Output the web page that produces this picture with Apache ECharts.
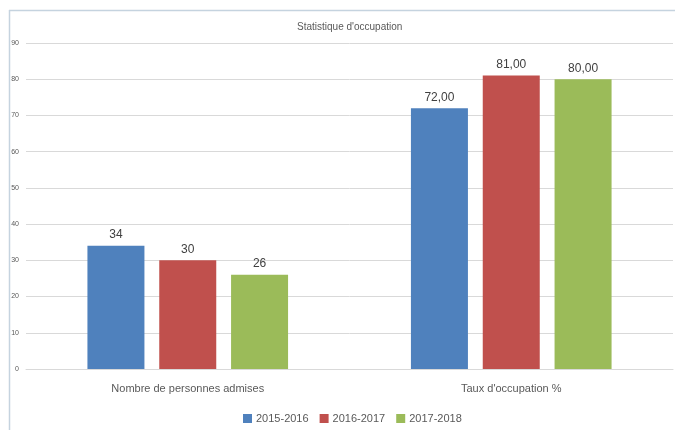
<!DOCTYPE html>
<html>
<head>
<meta charset="utf-8">
<script src="https://cdn.jsdelivr.net/npm/echarts@6/dist/echarts.min.js"></script>
<style>
  html, body { margin: 0; padding: 0; background: #fff; }
  #chart { width: 675px; height: 430px; }
</style>
</head>
<body>
<div id="chart"></div>
<script>
const categories = ['Nombre de personnes admises', "Taux d'occupation %"];
const seriesNames = ['2015-2016', '2016-2017', '2017-2018'];
const values2015 = [34, 72];
const values2016 = [30, 81];
const values2017 = [26, 80];
const yTicks = { min: 0, max: 90, interval: 10 };

const colors = ['#4F81BD', '#C0504D', '#9BBB59'];
const font = "'Liberation Sans', sans-serif";

// second category shows two decimals with a comma
function fmt(p) {
  return p.dataIndex === 1 ? p.value.toFixed(2).replace('.', ',') : String(p.value);
}

const chart = echarts.init(document.getElementById('chart'));

const option = {
  backgroundColor: '#fff',
  color: colors,
  animation: false,
  textStyle: { fontFamily: font },
  title: {
    text: "Statistique d'occupation",
    left: 292,
    top: 17,
    textStyle: { color: '#595959', fontSize: 10, fontWeight: 'normal', fontFamily: font }
  },
  legend: {
    data: seriesNames,
    left: 238,
    top: 408,
    itemWidth: 9,
    itemHeight: 9,
    itemGap: 11,
    icon: 'rect',
    textStyle: { color: '#595959', fontSize: 11, fontFamily: font, padding: [0, 0, 0, -1] }
  },
  grid: { left: 26, right: 2, top: 43, bottom: 61 },
  xAxis: {
    type: 'category',
    data: categories,
    axisLine: { lineStyle: { color: '#d9d9d9' } },
    axisTick: { show: false },
    axisLabel: { color: '#595959', fontSize: 11, margin: 14, fontFamily: font }
  },
  yAxis: {
    type: 'value',
    min: yTicks.min,
    max: yTicks.max,
    interval: yTicks.interval,
    axisLine: { show: false },
    axisTick: { show: false },
    axisLabel: { color: '#595959', fontSize: 7, margin: 7, fontFamily: font },
    splitLine: { lineStyle: { color: '#d9d9d9' } }
  },
  graphic: [
    { type: 'line', shape: { x1: 9, y1: 10.5, x2: 675, y2: 10.5 }, style: { stroke: '#c5d3df', lineWidth: 1.5 }, silent: true },
    { type: 'line', shape: { x1: 9.5, y1: 10, x2: 9.5, y2: 430 }, style: { stroke: '#c5d3df', lineWidth: 1.5 }, silent: true }
  ],
  series: [values2015, values2016, values2017].map((vals, i) => ({
    name: seriesNames[i],
    type: 'bar',
    data: vals,
    barWidth: 57,
    barGap: '26%',
    itemStyle: { color: colors[i] },
    label: {
      show: true,
      position: 'top',
      distance: 5,
      color: '#404040',
      fontSize: 12,
      fontFamily: font,
      formatter: fmt
    }
  }))
};

chart.setOption(option);
</script>
</body>
</html>
